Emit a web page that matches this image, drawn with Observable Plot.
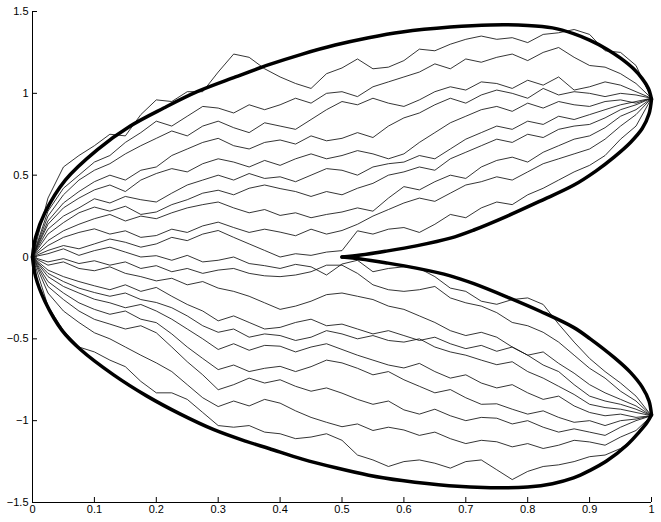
<!DOCTYPE html>
<html>
<head>
<meta charset="utf-8">
<script src="https://cdn.jsdelivr.net/npm/d3@7"></script>
<script src="https://cdn.jsdelivr.net/npm/@observablehq/plot@0.6"></script>
<style>
  html, body { margin: 0; padding: 0; background: #fff; }
  svg { display: block; }
</style>
</head>
<body>
<script>
// x positions of the sampled path values
const xGrid = [0, 0.025, 0.05, 0.075, 0.1, 0.125, 0.15, 0.175, 0.2, 0.225, 0.25, 0.275, 0.3, 0.325, 0.35, 0.375, 0.4, 0.425, 0.45, 0.475, 0.5, 0.525, 0.55, 0.575, 0.6, 0.625, 0.65, 0.675, 0.7, 0.725, 0.75, 0.775, 0.8, 0.825, 0.85, 0.875, 0.9, 0.925, 0.95, 0.975, 1];

// random paths (y values)
const path01 = [0, 0.36, 0.55, 0.62, 0.68, 0.75, 0.74, 0.87, 0.96, 0.95, 1.01, 1.01, 1.13, 1.24, 1.22, 1.15, 1.10, 1.06, 1.03, 1.12, 1.155, 1.21, 1.15, 1.16, 1.20, 1.27, 1.26, 1.30, 1.33, 1.35, 1.33, 1.34, 1.31, 1.36, 1.37, 1.39, 1.36, 1.26, 1.25, 1.17, 0.97];
const path02 = [0, 0.28, 0.42, 0.50, 0.58, 0.62, 0.70, 0.76, 0.83, 0.80, 0.86, 0.92, 0.91, 0.88, 0.93, 0.90, 0.93, 0.97, 0.94, 1.00, 1.01, 0.98, 1.04, 1.07, 1.10, 1.13, 1.18, 1.15, 1.21, 1.19, 1.22, 1.24, 1.20, 1.25, 1.28, 1.22, 1.17, 1.16, 1.12, 1.06, 0.97];
const path03 = [0, 0.25, 0.38, 0.47, 0.53, 0.57, 0.63, 0.68, 0.725, 0.77, 0.74, 0.80, 0.83, 0.79, 0.76, 0.82, 0.80, 0.78, 0.84, 0.90, 0.95, 0.93, 0.97, 0.94, 0.92, 0.96, 1.01, 1.04, 1.02, 1.07, 1.06, 1.03, 1.08, 1.05, 1.10, 1.02, 1.04, 1.07, 1.05, 1.01, 0.97];
const path04 = [0, 0.22, 0.33, 0.40, 0.46, 0.50, 0.47, 0.53, 0.55, 0.62, 0.66, 0.70, 0.725, 0.68, 0.66, 0.70, 0.715, 0.69, 0.74, 0.71, 0.725, 0.76, 0.73, 0.80, 0.85, 0.88, 0.93, 0.97, 0.94, 0.99, 1.02, 1.00, 0.97, 1.03, 0.99, 1.01, 1.00, 0.98, 1.00, 0.99, 0.97];
const path05 = [0, 0.20, 0.30, 0.36, 0.41, 0.44, 0.40, 0.47, 0.51, 0.54, 0.52, 0.57, 0.60, 0.58, 0.55, 0.59, 0.56, 0.60, 0.63, 0.60, 0.62, 0.65, 0.63, 0.60, 0.63, 0.70, 0.76, 0.82, 0.86, 0.90, 0.92, 0.89, 0.94, 0.91, 0.95, 0.93, 0.92, 0.95, 0.96, 0.94, 0.97];
const path06 = [0, 0.17, 0.25, 0.30, 0.356, 0.33, 0.37, 0.35, 0.336, 0.39, 0.44, 0.47, 0.50, 0.47, 0.51, 0.48, 0.49, 0.46, 0.50, 0.54, 0.53, 0.50, 0.55, 0.57, 0.58, 0.62, 0.60, 0.66, 0.72, 0.76, 0.80, 0.78, 0.83, 0.81, 0.86, 0.84, 0.87, 0.90, 0.93, 0.95, 0.97];
const path07 = [0, 0.14, 0.21, 0.27, 0.305, 0.28, 0.31, 0.26, 0.275, 0.32, 0.35, 0.39, 0.408, 0.38, 0.42, 0.44, 0.418, 0.40, 0.37, 0.40, 0.38, 0.42, 0.45, 0.50, 0.52, 0.55, 0.53, 0.60, 0.64, 0.68, 0.72, 0.70, 0.75, 0.73, 0.78, 0.80, 0.81, 0.85, 0.90, 0.93, 0.97];
const path08 = [0, 0.10, 0.16, 0.20, 0.234, 0.26, 0.22, 0.25, 0.234, 0.27, 0.30, 0.32, 0.336, 0.30, 0.27, 0.29, 0.254, 0.27, 0.24, 0.26, 0.275, 0.30, 0.28, 0.36, 0.43, 0.41, 0.46, 0.50, 0.48, 0.55, 0.59, 0.61, 0.58, 0.64, 0.68, 0.72, 0.74, 0.79, 0.86, 0.90, 0.97];
const path09 = [0, 0.07, 0.12, 0.15, 0.172, 0.14, 0.16, 0.12, 0.131, 0.17, 0.15, 0.19, 0.213, 0.18, 0.15, 0.17, 0.152, 0.13, 0.17, 0.14, 0.162, 0.20, 0.25, 0.29, 0.33, 0.36, 0.34, 0.39, 0.44, 0.46, 0.49, 0.47, 0.52, 0.57, 0.60, 0.63, 0.66, 0.72, 0.80, 0.87, 0.97];
const path10 = [0, 0.04, 0.07, 0.05, 0.08, 0.11, 0.09, 0.06, 0.08, 0.12, 0.10, 0.14, 0.162, 0.12, 0.08, 0.04, 0.00, 0.02, 0.01, 0.03, 0.039, 0.16, 0.14, 0.17, 0.18, 0.15, 0.20, 0.26, 0.24, 0.30, 0.336, 0.32, 0.38, 0.42, 0.47, 0.52, 0.56, 0.62, 0.72, 0.80, 0.97];
const path11 = [0, 0.02, 0.05, 0.01, 0.039, 0.06, 0.03, 0.00, 0.008, -0.02, 0.01, -0.03, -0.02, 0.00, -0.04, -0.053, -0.07, -0.045, -0.06, -0.11, -0.043, -0.02, -0.09, -0.07, -0.06, -0.07, -0.12, -0.19, -0.21, -0.27, -0.289, -0.26, -0.25, -0.29, -0.41, -0.52, -0.62, -0.70, -0.77, -0.85, -0.97];
const path12 = [0, -0.03, -0.01, -0.04, -0.023, -0.05, -0.03, -0.07, -0.053, -0.09, -0.07, -0.10, -0.08, -0.07, -0.10, -0.115, -0.12, -0.11, -0.09, -0.05, -0.05, -0.10, -0.17, -0.20, -0.21, -0.20, -0.18, -0.25, -0.28, -0.30, -0.34, -0.40, -0.42, -0.46, -0.52, -0.60, -0.68, -0.74, -0.82, -0.88, -0.97];
const path13 = [0, -0.05, -0.03, -0.07, -0.084, -0.06, -0.10, -0.12, -0.146, -0.13, -0.17, -0.15, -0.19, -0.21, -0.24, -0.28, -0.32, -0.30, -0.27, -0.23, -0.22, -0.24, -0.26, -0.30, -0.32, -0.36, -0.40, -0.45, -0.48, -0.46, -0.49, -0.55, -0.60, -0.58, -0.65, -0.71, -0.78, -0.83, -0.87, -0.91, -0.97];
const path14 = [0, -0.08, -0.12, -0.15, -0.176, -0.20, -0.17, -0.21, -0.186, -0.24, -0.29, -0.33, -0.39, -0.36, -0.40, -0.44, -0.43, -0.40, -0.38, -0.42, -0.41, -0.44, -0.47, -0.45, -0.48, -0.51, -0.49, -0.53, -0.56, -0.54, -0.576, -0.55, -0.60, -0.66, -0.70, -0.78, -0.85, -0.88, -0.90, -0.93, -0.97];
const path15 = [0, -0.10, -0.15, -0.19, -0.217, -0.24, -0.22, -0.26, -0.278, -0.31, -0.36, -0.42, -0.46, -0.44, -0.49, -0.47, -0.48, -0.51, -0.49, -0.45, -0.47, -0.50, -0.48, -0.51, -0.52, -0.50, -0.55, -0.58, -0.60, -0.63, -0.658, -0.64, -0.70, -0.74, -0.79, -0.84, -0.90, -0.92, -0.93, -0.95, -0.97];
const path16 = [0, -0.12, -0.18, -0.22, -0.258, -0.28, -0.31, -0.29, -0.33, -0.38, -0.44, -0.50, -0.565, -0.53, -0.57, -0.54, -0.545, -0.58, -0.55, -0.53, -0.565, -0.60, -0.63, -0.66, -0.678, -0.65, -0.70, -0.74, -0.72, -0.77, -0.80, -0.78, -0.83, -0.87, -0.85, -0.91, -0.95, -0.97, -0.96, -0.98, -0.97];
const path17 = [0, -0.15, -0.22, -0.28, -0.32, -0.35, -0.33, -0.38, -0.401, -0.47, -0.55, -0.62, -0.688, -0.66, -0.70, -0.68, -0.668, -0.70, -0.67, -0.63, -0.647, -0.68, -0.72, -0.70, -0.75, -0.79, -0.83, -0.81, -0.86, -0.90, -0.897, -0.93, -0.96, -0.94, -0.98, -1.01, -1.00, -1.03, -1.00, -0.99, -0.97];
const path18 = [0, -0.18, -0.26, -0.33, -0.381, -0.41, -0.44, -0.42, -0.463, -0.55, -0.64, -0.72, -0.811, -0.78, -0.74, -0.77, -0.75, -0.79, -0.82, -0.80, -0.832, -0.87, -0.90, -0.88, -0.934, -0.96, -0.93, -0.97, -1.00, -0.98, -0.985, -1.02, -1.00, -1.04, -1.07, -1.05, -1.07, -1.09, -1.04, -1.00, -0.97];
const path19 = [0, -0.22, -0.33, -0.40, -0.463, -0.50, -0.55, -0.60, -0.647, -0.70, -0.78, -0.86, -0.914, -0.88, -0.91, -0.87, -0.893, -0.94, -0.98, -1.01, -1.037, -1.02, -1.06, -1.04, -1.057, -1.09, -1.07, -1.11, -1.14, -1.12, -1.129, -1.16, -1.14, -1.17, -1.15, -1.12, -1.13, -1.15, -1.10, -1.06, -0.97];
const path20 = [0, -0.30, -0.45, -0.55, -0.58, -0.63, -0.67, -0.76, -0.83, -0.83, -0.87, -0.95, -1.03, -1.04, -1.03, -1.07, -1.08, -1.11, -1.10, -1.08, -1.12, -1.21, -1.24, -1.28, -1.25, -1.24, -1.26, -1.29, -1.25, -1.24, -1.30, -1.36, -1.31, -1.28, -1.27, -1.25, -1.22, -1.21, -1.17, -1.10, -0.97];

// boundary curve, as [x, y] points
const upperOuter = [[0,0],[0.005,0.12],[0.02,0.27],[0.053,0.47],[0.1045,0.655],[0.158,0.80],[0.212,0.91],[0.266,1.01],[0.328,1.10],[0.382,1.175],[0.436,1.24],[0.489,1.295],[0.543,1.34],[0.597,1.375],[0.675,1.405],[0.74,1.418],[0.80,1.415],[0.84,1.40],[0.874,1.365],[0.90,1.325],[0.928,1.27],[0.95,1.215],[0.971,1.15],[0.985,1.09],[0.995,1.03],[1.0,0.965]];
const upperInner = [[0.5,0],[0.53,0.012],[0.57,0.035],[0.62,0.068],[0.675,0.115],[0.713,0.165],[0.767,0.25],[0.821,0.343],[0.874,0.438],[0.91,0.525],[0.94,0.612],[0.966,0.70],[0.985,0.785],[0.996,0.875],[1.0,0.965]];
const lowerOuter = [[0,0],[0.005,-0.12],[0.02,-0.27],[0.048,-0.45],[0.0775,-0.565],[0.131,-0.72],[0.185,-0.85],[0.239,-0.96],[0.293,-1.055],[0.344,-1.125],[0.382,-1.17],[0.436,-1.235],[0.49,-1.288],[0.543,-1.333],[0.597,-1.366],[0.673,-1.398],[0.74,-1.41],[0.80,-1.405],[0.84,-1.385],[0.874,-1.35],[0.90,-1.305],[0.928,-1.245],[0.96,-1.15],[0.98,-1.07],[0.993,-1.01],[1.0,-0.965]];
const lowerInner = [[0.5,0],[0.53,-0.012],[0.57,-0.035],[0.62,-0.068],[0.675,-0.115],[0.713,-0.163],[0.767,-0.245],[0.821,-0.333],[0.874,-0.43],[0.901,-0.50],[0.94,-0.615],[0.966,-0.705],[0.985,-0.795],[0.996,-0.88],[1.0,-0.965]];

// tick values
const xTicks = [0, 0.1, 0.2, 0.3, 0.4, 0.5, 0.6, 0.7, 0.8, 0.9, 1];
const yTicks = [-1.5, -1, -0.5, 0, 0.5, 1, 1.5];

const paths = [path01, path02, path03, path04, path05, path06, path07, path08, path09, path10,
               path11, path12, path13, path14, path15, path16, path17, path18, path19, path20];
const pathRows = paths.flatMap((p, k) => p.map((y, i) => ({path: k, x: xGrid[i], y})));
const envRows = [
  ...upperOuter.map(([x, y]) => ({seg: "uo", x, y})),
  ...upperInner.map(([x, y]) => ({seg: "ui", x, y})),
  ...lowerOuter.map(([x, y]) => ({seg: "lo", x, y})),
  ...lowerInner.map(([x, y]) => ({seg: "li", x, y}))
];

const fmt = d => (d < 0 ? "\u2212" : "") + String(Math.abs(d));

const chart = Plot.plot({
  width: 661,
  height: 522,
  marginLeft: 32,
  marginRight: 10,
  marginTop: 11,
  marginBottom: 20,
  x: {domain: [0, 1]},
  y: {domain: [-1.5, 1.5]},
  style: {fontFamily: "'Liberation Sans', Arial, Helvetica, sans-serif", fontSize: "11px", color: "black", background: "white"},
  marks: [
    Plot.line(pathRows, {x: "x", y: "y", z: "path", stroke: "#111", strokeWidth: 0.85}),
    Plot.line(envRows, {x: "x", y: "y", z: "seg", stroke: "black", strokeWidth: 3.5, curve: "catmull-rom"}),
    Plot.ruleX([0], {stroke: "black"}),
    Plot.ruleY([-1.5], {stroke: "black"}),
    Plot.axisX(xTicks, {tickSize: -5, tickPadding: 8, tickFormat: fmt, label: null, fontSize: 11}),
    Plot.axisY(yTicks, {tickSize: -5, tickPadding: 9, tickFormat: fmt, label: null, fontSize: 11})
  ]
});
document.body.appendChild(chart);
</script>
</body>
</html>
